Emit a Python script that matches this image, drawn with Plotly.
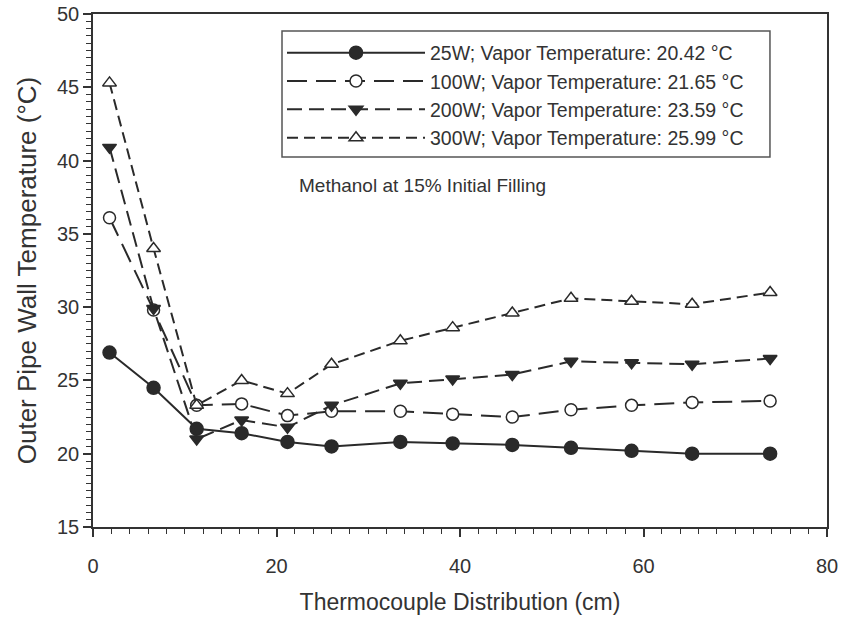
import plotly.graph_objects as go

x_cm = [1.8, 6.6, 11.3, 16.2, 21.2, 26.0, 33.5, 39.2, 45.7, 52.1, 58.7, 65.3, 73.8]

t_25w = [26.9, 24.5, 21.7, 21.4, 20.8, 20.5, 20.8, 20.7, 20.6, 20.4, 20.2, 20.0, 20.0]
t_100w = [36.1, 29.8, 23.3, 23.4, 22.6, 22.9, 22.9, 22.7, 22.5, 23.0, 23.3, 23.5, 23.6]
t_200w = [40.9, 29.9, 21.0, 22.3, 21.8, 23.3, 24.8, 25.1, 25.4, 26.3, 26.2, 26.1, 26.5]
t_300w = [45.3, 34.0, 23.3, 25.0, 24.1, 26.1, 27.7, 28.6, 29.6, 30.6, 30.4, 30.2, 31.0]

names = [
    "25W; Vapor Temperature: 20.42 °C",
    "100W; Vapor Temperature: 21.65 °C",
    "200W; Vapor Temperature: 23.59 °C",
    "300W; Vapor Temperature: 25.99 °C",
]

x_ticks = [0, 20, 40, 60, 80]
y_ticks = [15, 20, 25, 30, 35, 40, 45, 50]

LINE = "#2a2a2a"
FONT = "Liberation Sans, Arial, sans-serif"

fig = go.Figure()

# (values, dash, symbol, fill colour, size)
styles = [
    (t_25w, "solid", "circle", LINE, 13),
    (t_100w, "20px,9px", "circle", "white", 12),
    (t_200w, "15px,7px", "triangle-down", LINE, 12),
    (t_300w, "11px,6px", "triangle-up", "white", 12),
]

for (vals, dash, sym, fill, ms), nm in zip(styles, names):
    fig.add_trace(go.Scatter(
        x=x_cm, y=vals, name=nm, mode="lines+markers",
        line=dict(color=LINE, width=2, dash=dash),
        marker=dict(symbol=sym, size=ms, color=fill,
                    line=dict(color=LINE, width=1.5)),
    ))

axis_common = dict(
    showline=True, linecolor="#333", linewidth=1.5, mirror=True,
    ticks="outside", tickcolor="#333", tickwidth=1.5, ticklen=8,
    showgrid=False, zeroline=False, automargin=False,
    tickfont=dict(family=FONT, size=20, color="#333"),
)

fig.update_xaxes(
    range=[0, 80], tickvals=x_ticks,
    minor=dict(dtick=2, ticks="outside", ticklen=5, tickcolor="#333", tickwidth=1),
    ticklabelstandoff=12,
    title=dict(text="Thermocouple Distribution (cm)", font=dict(family=FONT, size=23, color="#333"), standoff=18),
    **axis_common,
)
fig.update_yaxes(
    range=[15, 50], tickvals=y_ticks,
    minor=dict(dtick=0.5, ticks="outside", ticklen=5, tickcolor="#333", tickwidth=1),
    title=dict(text="Outer Pipe Wall Temperature (°C)", font=dict(family=FONT, size=26, color="#333"), standoff=13),
    **axis_common,
)

fig.add_annotation(
    x=22.2, y=38.3, xref="x", yref="y", text="Methanol at 15% Initial Filling",
    showarrow=False, xanchor="left", yanchor="middle",
    font=dict(family=FONT, size=19, color="#333"),
)

# legend frame
fig.add_shape(
    type="rect", xref="paper", yref="paper",
    x0=0.2575, x1=0.9223, y0=0.7212, y1=0.9669,
    line=dict(color="#555", width=1.5), fillcolor="white", layer="above",
)

fig.update_layout(
    width=841, height=621,
    margin=dict(l=93, r=14, t=14, b=94),
    plot_bgcolor="white", paper_bgcolor="white",
    showlegend=True,
    legend=dict(
        x=0.2575, y=0.962, xanchor="left", yanchor="top",
        borderwidth=0, bgcolor="rgba(0,0,0,0)",
        font=dict(family=FONT, size=19.5, color="#333"),
        itemwidth=138, tracegroupgap=0,
    ),
)

fig.write_html("out.html")
